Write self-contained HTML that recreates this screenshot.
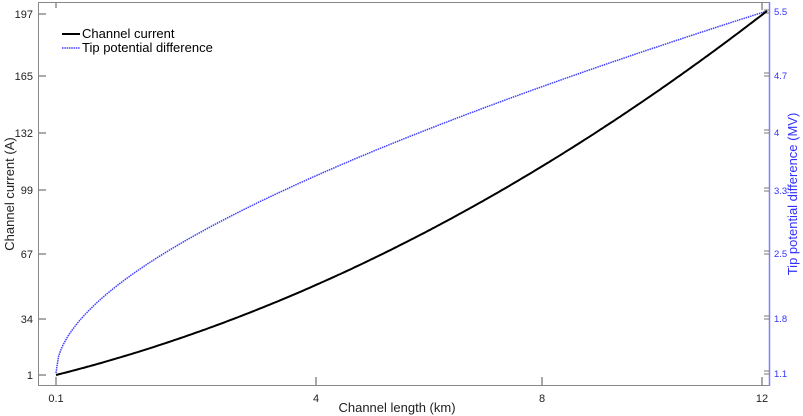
<!DOCTYPE html>
<html><head><style>body{margin:0;background:#fff}svg{display:block;font-family:"Liberation Sans",sans-serif}</style></head><body>
<svg width="803" height="416" viewBox="0 0 803 416">
<rect x="38.5" y="2.5" width="731" height="383" fill="none" stroke="#888" stroke-width="1"/>
<line x1="769.5" y1="2" x2="769.5" y2="386" stroke="#8080ff" stroke-width="1.5"/>
<g stroke="#555" stroke-width="1">
<line x1="39" y1="375" x2="46" y2="375"/><line x1="39" y1="319" x2="46" y2="319"/><line x1="39" y1="254" x2="46" y2="254"/><line x1="39" y1="190" x2="46" y2="190"/><line x1="39" y1="133" x2="46" y2="133"/><line x1="39" y1="76" x2="46" y2="76"/><line x1="39" y1="14" x2="46" y2="14"/>
<line x1="56" y1="385" x2="56" y2="377"/><line x1="316" y1="385" x2="316" y2="377"/><line x1="542" y1="385" x2="542" y2="377"/><line x1="762" y1="385" x2="762" y2="377"/>
<line x1="762" y1="3" x2="762" y2="10"/><line x1="56" y1="3" x2="56" y2="8"/>
</g>
<g stroke="#777" stroke-width="1">
<path d="M764 10h5M764 13h5M764 73h5M764 76h5M764 130h5M764 133h5M764 188h5M764 191h5M764 251h5M764 254h5M764 316h5M764 319h5M764 371h5M764 374h5"/>
</g>
<g font-size="11" fill="#222" text-anchor="end">
<text x="33" y="379">1</text><text x="33" y="323">34</text><text x="33" y="258">67</text><text x="33" y="194">99</text><text x="33" y="137">132</text><text x="33" y="80">165</text><text x="33" y="18">197</text>
</g>
<g font-size="11" fill="#222" text-anchor="middle">
<text x="56" y="402">0.1</text><text x="316" y="402">4</text><text x="542" y="402">8</text><text x="762" y="402">12</text>
</g>
<g font-size="9.5" fill="#3030ff">
<text x="774" y="15">5.5</text><text x="774" y="79">4.7</text><text x="774" y="136">4</text><text x="774" y="194">3.3</text><text x="774" y="257">2.5</text><text x="774" y="322">1.8</text><text x="774" y="377">1.1</text>
</g>
<text x="397" y="412" font-size="13" fill="#222" text-anchor="middle">Channel length (km)</text>
<text transform="translate(14,194) rotate(-90)" font-size="13" fill="#222" text-anchor="middle">Channel current (A)</text>
<text transform="translate(797,194) rotate(-90)" font-size="13" fill="#3030ff" text-anchor="middle">Tip potential difference (MV)</text>
<path id="b" fill="none" stroke="#4040ff" stroke-width="1.5" stroke-dasharray="1.5 0.8" d=""/>
<path id="k" fill="none" stroke="#000" stroke-width="2" d=""/>
<line x1="62" y1="34" x2="80" y2="34" stroke="#000" stroke-width="2"/>
<line x1="62" y1="48" x2="80" y2="48" stroke="#4040ff" stroke-width="1.5" stroke-dasharray="1.5 0.8"/>
<text x="82" y="38" font-size="13" fill="#000">Channel current</text>
<text x="82" y="52" font-size="13" fill="#000">Tip potential difference</text>
<script>
function mk(fn,y0,r){let d="";for(let i=0;i<=300;i++){let f=i/300,x=56+711*f,y=y0-r*fn(f);d+=(i?"L":"M")+x.toFixed(1)+" "+y.toFixed(1);}return d;}
document.getElementById("b").setAttribute("d",mk(f=>0.75*Math.sqrt(f)+0.25*f,373,362));
document.getElementById("k").setAttribute("d",mk(f=>0.49*f+0.51*f*f,375,364));
</script>
</svg>
</body></html>
